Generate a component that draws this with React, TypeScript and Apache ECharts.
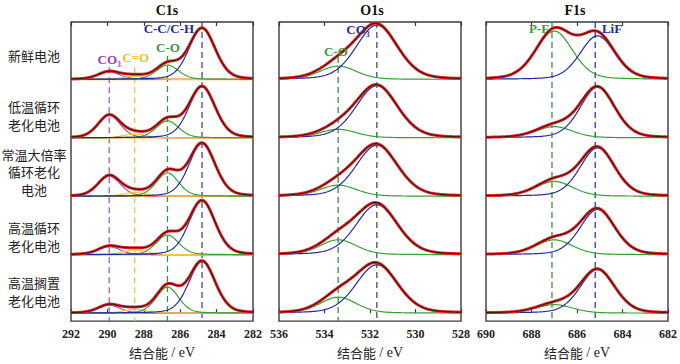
import React, { useEffect, useRef } from 'react';
import * as echarts from 'echarts';

// ---------- data ----------
const rowLabels: string[][] = [
  ['新鲜电池'],
  ['低温循环', '老化电池'],
  ['常温大倍率', '循环老化', '电池'],
  ['高温循环', '老化电池'],
  ['高温搁置', '老化电池'],
];

// C1s components: binding energy (eV), FWHM (eV), peak intensity per row (top to bottom)
const c1sCenters = [289.9, 288.5, 286.7, 284.8]; // CO3, C=O, C-O, C-C/C-H
const c1sFwhm = [1.45, 1.5, 1.45, 1.7];
const c1sCO3 = [14, 42, 38, 15, 15];
const c1sCdO = [6, 7, 7, 9, 7];
const c1sCO = [27, 32, 44, 37, 49];
const c1sCC = [96, 96, 99, 101, 97];

// O1s components
const o1sCenters = [533.4, 531.7]; // C-O, CO3
const o1sFwhm = [1.9, 2.15];
const o1sCO = [25, 16, 21, 28, 30];
const o1sCO3 = [102, 98, 96, 94, 91];

// F1s components
const f1sCenters = [687.0, 685.1]; // P-F, LiF
const f1sFwhm = [1.9, 1.8];
const f1sPF = [91, 21, 28, 28, 16];
const f1sLiF = [82, 95, 91, 85, 82];

// axis ranges (eV)
const c1sRange = [282, 292];
const o1sRange = [528, 536];
const f1sRange = [682, 690];
const panelTitles = ['C1s', 'O1s', 'F1s'];

// ---------- layout ----------
const GRID_TOP = 22;
const GRID_H = 306;
const GRID_W = 182;
const GRID_LEFTS = [71, 279, 486];
const Y_MIN = -15;
const Y_MAX = 548;
const ROW_STEP = 110;
const STEP = 0.04;
const SERIF = '"Liberation Serif", "Times New Roman", serif';
const CJK = '"Noto Sans CJK SC", sans-serif';

function pv(x: number, c: number, h: number, w: number) {
  const d = (x - c) / w;
  const m = 0.22;
  return h * ((1 - m) * Math.exp(-4 * Math.LN2 * d * d) + m / (1 + 4 * d * d));
}

type Comp = { c: number; w: number; h: number[]; color: string };

const panels: {
  range: number[];
  comps: Comp[];
  background: boolean;
  markers: { x: number; color: string; top: number }[];
  labels: { x: number; y: number; text: string; color: string }[];
  titleX: number;
}[] = [
  {
    range: c1sRange,
    background: true,
    comps: [
      { c: c1sCenters[0], w: c1sFwhm[0], h: c1sCO3, color: '#b043b8' },
      { c: c1sCenters[1], w: c1sFwhm[1], h: c1sCdO, color: '#f2c744' },
      { c: c1sCenters[2], w: c1sFwhm[2], h: c1sCO, color: '#34a034' },
      { c: c1sCenters[3], w: c1sFwhm[3], h: c1sCC, color: '#1c2aa0' },
    ],
    markers: [
      { x: c1sCenters[0], color: '#a458b8', top: 463 },
      { x: c1sCenters[1], color: '#e8c450', top: 463 },
      { x: c1sCenters[2], color: '#3a8f3a', top: 484 },
      { x: c1sCenters[3], color: '#4a4a80', top: Y_MAX },
    ],
    labels: [
      { x: 289.9, y: 478, text: 'CO₃', color: '#9b40b8' },
      { x: 288.45, y: 481, text: 'C=O', color: '#e8c040' },
      { x: 286.67, y: 500, text: 'C-O', color: '#3c9a3c' },
      { x: 286.62, y: 536, text: 'C-C/C-H', color: '#1e2a9c' },
    ],
    titleX: 167,
  },
  {
    range: o1sRange,
    background: false,
    comps: [
      { c: o1sCenters[0], w: o1sFwhm[0], h: o1sCO, color: '#34a034' },
      { c: o1sCenters[1], w: o1sFwhm[1], h: o1sCO3, color: '#1c2aa0' },
    ],
    markers: [
      { x: 533.4, color: '#3a8f3a', top: 482 },
      { x: 531.7, color: '#4a4a80', top: Y_MAX },
    ],
    labels: [
      { x: 532.53, y: 533, text: 'CO₃', color: '#1e2a9c' },
      { x: 533.5, y: 493, text: 'C-O', color: '#3c9a3c' },
    ],
    titleX: 372,
  },
  {
    range: f1sRange,
    background: false,
    comps: [
      { c: f1sCenters[0], w: f1sFwhm[0], h: f1sPF, color: '#34a034' },
      { c: f1sCenters[1], w: f1sFwhm[1], h: f1sLiF, color: '#1c2aa0' },
    ],
    markers: [
      { x: 687.1, color: '#3a8f3a', top: Y_MAX },
      { x: 685.2, color: '#2a3aa8', top: Y_MAX },
    ],
    labels: [
      { x: 687.67, y: 535, text: 'P-F', color: '#3c9a3c' },
      { x: 684.46, y: 535, text: 'LiF', color: '#1e2a9c' },
    ],
    titleX: 575,
  },
];

function curve(xmin: number, xmax: number, f: (x: number) => number) {
  const pts: number[][] = [];
  const n = Math.round((xmax - xmin) / STEP);
  for (let i = 0; i <= n; i++) {
    const x = xmin + i * STEP;
    pts.push([+x.toFixed(3), f(x)]);
  }
  return pts;
}

const rowLabelCenterY = [55, 115.5, 171.5, 236.5, 291.5];

export default function App() {
  const ref = useRef<HTMLDivElement>(null);
  useEffect(() => {
    if (!ref.current) return;
    const chart = echarts.init(ref.current, undefined, { renderer: 'svg' });

    const grids: any[] = [];
    const xAxes: any[] = [];
    const yAxes: any[] = [];
    const series: any[] = [];

    panels.forEach((p, gi) => {
      grids.push({
        left: GRID_LEFTS[gi],
        top: GRID_TOP,
        width: GRID_W,
        height: GRID_H,
        show: true,
        borderColor: '#3a3a3a',
        borderWidth: 1.4,
        backgroundColor: 'transparent',
      });
      const common = {
        gridIndex: gi,
        type: 'value',
        min: p.range[0],
        max: p.range[1],
        interval: 2,
        inverse: true,
        axisLine: { show: false },
        splitLine: { show: false },
        axisTick: { show: true, inside: true, length: 4, lineStyle: { color: '#3a3a3a', width: 1.2 } },
      };
      xAxes.push({
        ...common,
        position: 'bottom',
        axisLabel: {
          show: true,
          margin: 7,
          fontFamily: SERIF,
          fontWeight: 'bold',
          fontSize: 12,
          color: '#222',
          showMinLabel: true,
          showMaxLabel: true,
        },
        name: '{a|结合能} {b|/ eV}',
        nameLocation: 'middle',
        nameGap: 20,
        nameTextStyle: {
          rich: {
            a: { fontFamily: CJK, fontSize: 13, color: '#222' },
            b: { fontFamily: SERIF, fontSize: 14, color: '#222' },
          },
        },
      });
      xAxes.push({ ...common, position: 'top', axisLabel: { show: false } });
      yAxes.push({ gridIndex: gi, type: 'value', min: Y_MIN, max: Y_MAX, show: false });

      const xa = gi * 2;
      const [xmin, xmax] = p.range;
      const base = {
        type: 'line',
        xAxisIndex: xa,
        yAxisIndex: gi,
        showSymbol: false,
        symbol: 'none',
        silent: true,
        animation: false,
      };

      // dashed reference lines
      p.markers.forEach((m) => {
        series.push({
          ...base,
          z: 1,
          data: [
            [m.x, m.top],
            [m.x, Y_MIN],
          ],
          lineStyle: { color: m.color, width: 1.3, type: [6, 4] },
        });
      });

      for (let r = 0; r < 5; r++) {
        const off = (4 - r) * ROW_STEP;
        if (p.background) {
          series.push({
            ...base,
            z: 2,
            data: [
              [xmin, off],
              [xmax, off],
            ],
            lineStyle: { color: '#f0b43c', width: 1.6 },
          });
        }
        p.comps.forEach((c) => {
          series.push({
            ...base,
            z: 3,
            data: curve(xmin, xmax, (x) => off + pv(x, c.c, c.h[r], c.w)),
            lineStyle: { color: c.color, width: 1.2 },
          });
        });
        const env = (x: number) => off + p.comps.reduce((s, c) => s + pv(x, c.c, c.h[r], c.w), 0);
        const envData = curve(xmin, xmax, env);
        series.push({ ...base, z: 4, data: envData, lineStyle: { color: '#e02a2a', width: 3 } });
        series.push({ ...base, z: 5, data: envData, lineStyle: { color: '#4a0c0c', width: 1.2, opacity: 0.9 } });
      }
    });

    chart.setOption({
      animation: false,
      backgroundColor: '#ffffff',
      grid: grids,
      xAxis: xAxes,
      yAxis: yAxes,
      series,
    });

    const graphics: any[] = [];
    panels.forEach((p, gi) => {
      graphics.push({
        type: 'text',
        x: p.titleX,
        y: 10,
        style: {
          text: panelTitles[gi],
          font: `bold 14px ${SERIF}`,
          fill: '#111',
          textAlign: 'center',
          textVerticalAlign: 'middle',
        },
      });
      p.labels.forEach((l) => {
        const pt = chart.convertToPixel({ gridIndex: gi } as any, [l.x, l.y]) as number[];
        graphics.push({
          type: 'text',
          x: pt[0],
          y: pt[1],
          z: 20,
          style: {
            text: l.text,
            font: `bold 13px ${SERIF}`,
            fill: l.color,
            textAlign: 'center',
            textVerticalAlign: 'middle',
          },
        });
      });
    });
    rowLabels.forEach((lines, ri) => {
      graphics.push({
        type: 'text',
        x: 34,
        y: rowLabelCenterY[ri],
        style: {
          text: lines.join('\n'),
          fontFamily: CJK,
          fontSize: 13,
          lineHeight: 17.5,
          fill: '#222',
          textAlign: 'center',
          textVerticalAlign: 'middle',
        },
      });
    });
    chart.setOption({ graphic: graphics });

    return () => chart.dispose();
  }, []);

  return (
    <div
      ref={ref}
      style={{ position: 'fixed', left: 0, top: 0, width: 680, height: 364, background: '#fff' }}
    />
  );
}
